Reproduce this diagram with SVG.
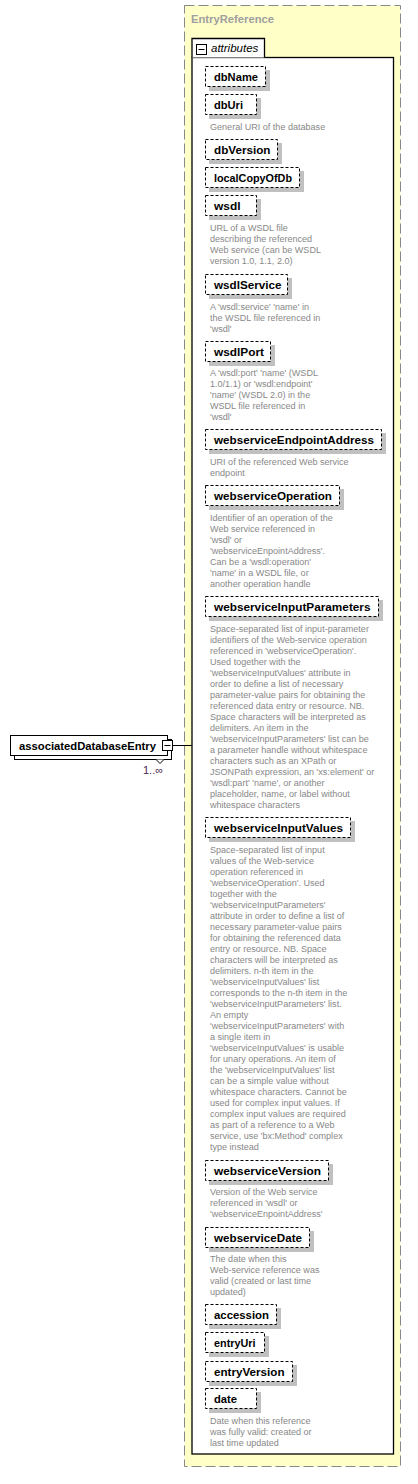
<svg xmlns="http://www.w3.org/2000/svg" width="418" height="1484" viewBox="0 0 418 1484">
<style>
.sh{fill:#c0c0c0}
.bx{fill:#fff;stroke:#000;stroke-width:1;stroke-dasharray:3,2}
.nm{font-family:"Liberation Sans",Arial,sans-serif;font-weight:bold;font-size:11.6px;fill:#000}
.ds{font-family:"Liberation Sans",Arial,sans-serif;font-size:9.05px;fill:#888}
.ln{stroke:#000;stroke-width:1;fill:none}
</style>
<rect width="418" height="1484" fill="#fff"/>
<g id="EntryReference">
<rect x="184.5" y="5.5" width="216" height="1461" fill="#ffffc8" stroke="#888" stroke-width="1" stroke-dasharray="10,4"/>
<text x="191" y="23" style="font-family:'Liberation Sans',Arial,sans-serif;font-weight:bold;font-size:11.5px;fill:#a0a0a0" textLength="83" lengthAdjust="spacingAndGlyphs">EntryReference</text>
</g>
<g id="attributes">
<rect x="192" y="57.5" width="201.5" height="1396.5" fill="#fff" stroke="#000" stroke-width="1.3"/>
<path d="M192,57.5 V38.5 H264.5 V57.5" fill="#fff" stroke="#000" stroke-width="1.3"/>
<rect x="196.5" y="44.5" width="10" height="10" fill="#fff" stroke="#000" stroke-width="1"/>
<line x1="198.5" y1="49.5" x2="204.5" y2="49.5" stroke="#000"/>
<text x="211" y="52" style="font-family:'Liberation Sans',Arial,sans-serif;font-style:italic;font-size:11.5px;fill:#000">attributes</text>
</g>
<g id="dbName"><rect class="sh" x="209" y="70" width="61" height="21"/><rect class="bx" x="205.5" y="66.5" width="60" height="20"/><text class="nm" x="214" y="80.5" textLength="44" lengthAdjust="spacingAndGlyphs">dbName</text></g>
<g id="dbUri"><rect class="sh" x="209" y="98" width="52" height="21"/><rect class="bx" x="205.5" y="94.5" width="51" height="20"/><text class="nm" x="214" y="108.5" textLength="29" lengthAdjust="spacingAndGlyphs">dbUri</text>
<text class="ds" x="210" y="129.5">General URI of the database</text></g>
<g id="dbVersion"><rect class="sh" x="209" y="143" width="73" height="21"/><rect class="bx" x="205.5" y="139.5" width="72" height="20"/><text class="nm" x="214" y="153.5" textLength="56.5" lengthAdjust="spacingAndGlyphs">dbVersion</text></g>
<g id="localCopyOfDb"><rect class="sh" x="209" y="171" width="95" height="21"/><rect class="bx" x="205.5" y="167.5" width="94" height="20"/><text class="nm" x="214" y="181.5" textLength="78" lengthAdjust="spacingAndGlyphs">localCopyOfDb</text></g>
<g id="wsdl"><rect class="sh" x="209" y="199" width="52" height="21"/><rect class="bx" x="205.5" y="195.5" width="51" height="20"/><text class="nm" x="214" y="209.5" textLength="26.5" lengthAdjust="spacingAndGlyphs">wsdl</text>
<text class="ds" x="210" y="230.5"><tspan x="210">URL of a WSDL file</tspan><tspan x="210" dy="11">describing the referenced</tspan><tspan x="210" dy="11">Web service (can be WSDL</tspan><tspan x="210" dy="11">version 1.0, 1.1, 2.0)</tspan></text></g>
<g id="wsdlService"><rect class="sh" x="209" y="278" width="83" height="21"/><rect class="bx" x="205.5" y="274.5" width="82" height="20"/><text class="nm" x="214" y="288.5" textLength="67.5" lengthAdjust="spacingAndGlyphs">wsdlService</text>
<text class="ds" x="210" y="309.5"><tspan x="210">A 'wsdl:service' 'name' in</tspan><tspan x="210" dy="11">the WSDL file referenced in</tspan><tspan x="210" dy="11">'wsdl'</tspan></text></g>
<g id="wsdlPort"><rect class="sh" x="209" y="345" width="66" height="21"/><rect class="bx" x="205.5" y="341.5" width="65" height="20"/><text class="nm" x="214" y="355.5" textLength="50" lengthAdjust="spacingAndGlyphs">wsdlPort</text>
<text class="ds" x="210" y="376"><tspan x="210">A 'wsdl:port' 'name' (WSDL</tspan><tspan x="210" dy="11">1.0/1.1) or 'wsdl:endpoint'</tspan><tspan x="210" dy="11">'name' (WSDL 2.0) in the</tspan><tspan x="210" dy="11">WSDL file referenced in</tspan><tspan x="210" dy="11">'wsdl'</tspan></text></g>
<g id="webserviceEndpointAddress"><rect class="sh" x="209" y="433" width="177" height="21"/><rect class="bx" x="205.5" y="429.5" width="176" height="20"/><text class="nm" x="214" y="443.5" textLength="160" lengthAdjust="spacingAndGlyphs">webserviceEndpointAddress</text>
<text class="ds" x="210" y="465"><tspan x="210">URI of the referenced Web service</tspan><tspan x="210" dy="11">endpoint</tspan></text></g>
<g id="webserviceOperation"><rect class="sh" x="209" y="489" width="135" height="21"/><rect class="bx" x="205.5" y="485.5" width="134" height="20"/><text class="nm" x="214" y="499.5" textLength="118" lengthAdjust="spacingAndGlyphs">webserviceOperation</text>
<text class="ds" x="210" y="520.5"><tspan x="210">Identifier of an operation of the</tspan><tspan x="210" dy="11">Web service referenced in</tspan><tspan x="210" dy="11">'wsdl' or</tspan><tspan x="210" dy="11">'webserviceEnpointAddress'.</tspan><tspan x="210" dy="11">Can be a 'wsdl:operation'</tspan><tspan x="210" dy="11">'name' in a WSDL file, or</tspan><tspan x="210" dy="11">another operation handle</tspan></text></g>
<g id="webserviceInputParameters"><rect class="sh" x="209" y="600" width="174" height="21"/><rect class="bx" x="205.5" y="596.5" width="173" height="20"/><text class="nm" x="214" y="610.5" textLength="156.5" lengthAdjust="spacingAndGlyphs">webserviceInputParameters</text>
<text class="ds" x="210" y="631.5"><tspan x="210">Space-separated list of input-parameter</tspan><tspan x="210" dy="11">identifiers of the Web-service operation</tspan><tspan x="210" dy="11">referenced in 'webserviceOperation'.</tspan><tspan x="210" dy="11">Used together with the</tspan><tspan x="210" dy="11">'webserviceInputValues' attribute in</tspan><tspan x="210" dy="11">order to define a list of necessary</tspan><tspan x="210" dy="11">parameter-value pairs for obtaining the</tspan><tspan x="210" dy="11">referenced data entry or resource. NB.</tspan><tspan x="210" dy="11">Space characters will be interpreted as</tspan><tspan x="210" dy="11">delimiters. An item in the</tspan><tspan x="210" dy="11">'webserviceInputParameters' list can be</tspan><tspan x="210" dy="11">a parameter handle without whitespace</tspan><tspan x="210" dy="11">characters such as an XPath or</tspan><tspan x="210" dy="11">JSONPath expression, an 'xs:element' or</tspan><tspan x="210" dy="11">'wsdl:part' 'name', or another</tspan><tspan x="210" dy="11">placeholder, name, or label without</tspan><tspan x="210" dy="11">whitespace characters</tspan></text></g>
<g id="webserviceInputValues"><rect class="sh" x="209" y="821" width="146" height="21"/><rect class="bx" x="205.5" y="817.5" width="145" height="20"/><text class="nm" x="214" y="831.5" textLength="129" lengthAdjust="spacingAndGlyphs">webserviceInputValues</text>
<text class="ds" x="210" y="852.7"><tspan x="210">Space-separated list of input</tspan><tspan x="210" dy="11">values of the Web-service</tspan><tspan x="210" dy="11">operation referenced in</tspan><tspan x="210" dy="11">'webserviceOperation'. Used</tspan><tspan x="210" dy="11">together with the</tspan><tspan x="210" dy="11">'webserviceInputParameters'</tspan><tspan x="210" dy="11">attribute in order to define a list of</tspan><tspan x="210" dy="11">necessary parameter-value pairs</tspan><tspan x="210" dy="11">for obtaining the referenced data</tspan><tspan x="210" dy="11">entry or resource. NB. Space</tspan><tspan x="210" dy="11">characters will be interpreted as</tspan><tspan x="210" dy="11">delimiters. n-th item in the</tspan><tspan x="210" dy="11">'webserviceInputValues' list</tspan><tspan x="210" dy="11">corresponds to the n-th item in the</tspan><tspan x="210" dy="11">'webserviceInputParameters' list.</tspan><tspan x="210" dy="11">An empty</tspan><tspan x="210" dy="11">'webserviceInputParameters' with</tspan><tspan x="210" dy="11">a single item in</tspan><tspan x="210" dy="11">'webserviceInputValues' is usable</tspan><tspan x="210" dy="11">for unary operations. An item of</tspan><tspan x="210" dy="11">the 'webserviceInputValues' list</tspan><tspan x="210" dy="11">can be a simple value without</tspan><tspan x="210" dy="11">whitespace characters. Cannot be</tspan><tspan x="210" dy="11">used for complex input values. If</tspan><tspan x="210" dy="11">complex input values are required</tspan><tspan x="210" dy="11">as part of a reference to a Web</tspan><tspan x="210" dy="11">service, use 'bx:Method' complex</tspan><tspan x="210" dy="11">type instead</tspan></text></g>
<g id="webserviceVersion"><rect class="sh" x="209" y="1164" width="124" height="21"/><rect class="bx" x="205.5" y="1160.5" width="123" height="20"/><text class="nm" x="214" y="1174.5" textLength="107" lengthAdjust="spacingAndGlyphs">webserviceVersion</text>
<text class="ds" x="210" y="1194.5"><tspan x="210">Version of the Web service</tspan><tspan x="210" dy="11">referenced in 'wsdl' or</tspan><tspan x="210" dy="11">'webserviceEnpointAddress'</tspan></text></g>
<g id="webserviceDate"><rect class="sh" x="209" y="1231" width="105" height="21"/><rect class="bx" x="205.5" y="1227.5" width="104" height="20"/><text class="nm" x="214" y="1241.5" textLength="88" lengthAdjust="spacingAndGlyphs">webserviceDate</text>
<text class="ds" x="210" y="1262"><tspan x="210">The date when this</tspan><tspan x="210" dy="11">Web-service reference was</tspan><tspan x="210" dy="11">valid (created or last time</tspan><tspan x="210" dy="11">updated)</tspan></text></g>
<g id="accession"><rect class="sh" x="209" y="1308" width="72" height="21"/><rect class="bx" x="205.5" y="1304.5" width="71" height="20"/><text class="nm" x="214" y="1318.5" textLength="55" lengthAdjust="spacingAndGlyphs">accession</text></g>
<g id="entryUri"><rect class="sh" x="209" y="1336" width="60" height="21"/><rect class="bx" x="205.5" y="1332.5" width="59" height="20"/><text class="nm" x="214" y="1346.5" textLength="41.5" lengthAdjust="spacingAndGlyphs">entryUri</text></g>
<g id="entryVersion"><rect class="sh" x="209" y="1365" width="88" height="21"/><rect class="bx" x="205.5" y="1361.5" width="87" height="20"/><text class="nm" x="214" y="1375.5" textLength="70.5" lengthAdjust="spacingAndGlyphs">entryVersion</text></g>
<g id="date"><rect class="sh" x="209" y="1392" width="52" height="21"/><rect class="bx" x="205.5" y="1388.5" width="51" height="20"/><text class="nm" x="214" y="1402.5" textLength="23" lengthAdjust="spacingAndGlyphs">date</text>
<text class="ds" x="210" y="1424"><tspan x="210">Date when this reference</tspan><tspan x="210" dy="11">was fully valid: created or</tspan><tspan x="210" dy="11">last time updated</tspan></text></g>
<g id="associatedDatabaseEntry">
<rect x="14.5" y="739.5" width="157" height="20" fill="#fff" stroke="#000" stroke-width="1"/>
<rect x="10.5" y="735.5" width="157" height="20" fill="#fff" stroke="#000" stroke-width="1"/>
<text x="19" y="750" class="nm" textLength="137" lengthAdjust="spacingAndGlyphs">associatedDatabaseEntry</text>
<rect x="162.5" y="740.5" width="10" height="10" fill="#fff" stroke="#000" stroke-width="1"/>
<line x1="164.5" y1="745.5" x2="170.5" y2="745.5" stroke="#000"/>
<polyline points="156,759.5 160,763.5 164,759.5" fill="#fff" stroke="#000" stroke-width="1"/>
<text x="143" y="774" style="font-family:'Liberation Sans',Arial,sans-serif;font-size:11px;fill:#4d1f4d">1..∞</text>
</g>
<g id="connectors">
<line class="ln" x1="172.5" y1="745.5" x2="192" y2="745.5"/>
</g>
</svg>
